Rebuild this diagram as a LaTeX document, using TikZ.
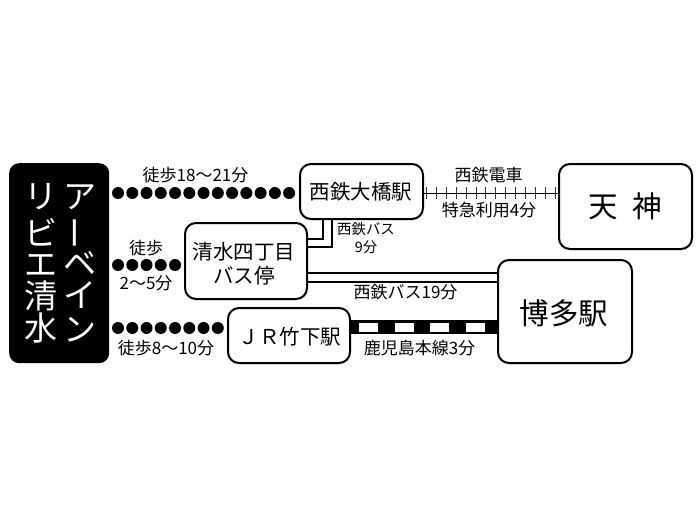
\documentclass[tikz,border=0pt]{standalone}
\usepackage{fontspec}
\setmainfont{Noto Sans CJK JP}
\usetikzlibrary{calc}
\tikzset{
  x=1pt,y=-1pt,
  stn/.style={draw=black,line width=2pt,rounded corners=11pt,fill=white,inner sep=0pt,anchor=north west},
  hero/.style={fill=black,rounded corners=10pt,inner sep=0pt,anchor=north west},
  lbl/.style={inner sep=0pt,font=\fontsize{17}{18}\selectfont},
  smalllbl/.style={inner sep=0pt,font=\fontsize{14.4}{16}\selectfont},
  stnname/.style={inner sep=0pt,font=\fontsize{20.5}{22}\selectfont},
  bigname/.style={inner sep=0pt,font=\fontsize{29.5}{32}\selectfont},
  vch/.style={inner sep=0pt,text=white,font=\fontsize{33}{34}\selectfont},
  walk/.style={line width=12pt,line cap=round,dash pattern=on 0.01pt off 14.25pt},
  wire/.style={line width=1.8pt},
  bus/.style={line width=2pt},
}
\begin{document}
\begin{tikzpicture}
\useasboundingbox (0,0) rectangle (700,525);
\fill[white] (0,0) rectangle (700,525);
\coordinate (wa) at (118,193);
\coordinate (wb) at (118,265);
\coordinate (wc) at (118,328);
\coordinate (ra) at (422,193);
\coordinate (rb) at (349,327);
% boxes
\node[hero,minimum width=100pt,minimum height=200pt] (home) at (9,163) {};
\node[stn,minimum width=123pt,minimum height=55pt] (ohashi) at (299,163) {};
\node[stn,minimum width=122pt,minimum height=76pt] (stop) at (184,222) {};
\node[stn,minimum width=122pt,minimum height=55pt] (jr) at (227,307) {};
\node[stn,minimum width=133pt,minimum height=85pt] (tenjin) at (558,163) {};
\node[stn,minimum width=134pt,minimum height=103pt] (hakata) at (497,259) {};
% walking
\draw[walk] (wa) -- (wa -| ohashi.west);
\draw[walk] (wb) -- (wb -| stop.west);
\draw[walk] (wc) -- (wc -| jr.west);
% Nishitetsu rail
\draw[line width=1pt] (ra) -- (ra -| tenjin.west);
\draw[line width=12pt,dash pattern=on 1pt off 8.9pt,dash phase=-4pt,black!80] (ra) -- (ra -| tenjin.west);
% bus 9 min
\draw[wire] ($(ohashi.south west)+(24,0)$) |- ($(stop.north east)+(0,17)$);
\draw[wire] ($(ohashi.south west)+(33,0)$) |- ($(stop.north east)+(0,25)$);
% bus 19 min
\coordinate (ba) at ($(stop.north east)+(0,51)$);
\coordinate (bb) at ($(stop.north east)+(0,60)$);
\draw[bus] (ba) -- (ba -| hakata.west);
\draw[bus] (bb) -- (bb -| hakata.west);
% JR line
\draw[line width=14pt] (rb) -- (rb -| hakata.west);
\draw[line width=9pt,white,dash pattern=on 19pt off 16.7pt,dash phase=-10pt] (rb) -- (rb -| hakata.west);
% hero text
\node[vch] (h1) at (80,197) {ア};
\node[vch,rotate=-90,yscale=-1] (h2) at (80,233) {ー};
\node[vch] (h3) at (80,263) {ベ};
\node[vch] (h4) at (80,295) {イ};
\node[vch] (h5) at (80,330) {ン};
\node[vch] (h6) at (41,197) {リ};
\node[vch] (h7) at (41,232) {ビ};
\node[vch] (h8) at (41,265) {エ};
\node[vch] (h9) at (41,296) {清};
\node[vch] (h10) at (41,328) {水};
% station names
\node[stnname] (n1) at (361,192) {西鉄大橋駅};
\node[stnname] (n2) at (244,252) {清水四丁目};
\node[stnname] (n3) at (244,276) {バス停};
\node[stnname] (n4) at (290,337) {ＪＲ竹下駅};
\node[bigname] (n5) at (625,206) {天\hspace{0.5em}神};
\node[bigname] (n6) at (564,313) {博多駅};
% labels
\node[lbl] (l1) at (195.5,175) {徒歩18〜21分};
\node[lbl] (l2) at (146,248) {徒歩};
\node[lbl] (l3) at (146,283) {2〜5分};
\node[lbl] (l4) at (166,348) {徒歩8〜10分};
\node[lbl] (l5) at (488.5,175) {西鉄電車};
\node[lbl] (l6) at (489,210) {特急利用4分};
\node[smalllbl] (l7) at (366,229) {西鉄バス};
\node[smalllbl] (l8) at (366,247) {9分};
\node[lbl] (l9) at (405.5,292) {西鉄バス19分};
\node[lbl] (l10) at (419.5,348) {鹿児島本線3分};
\end{tikzpicture}
\end{document}
